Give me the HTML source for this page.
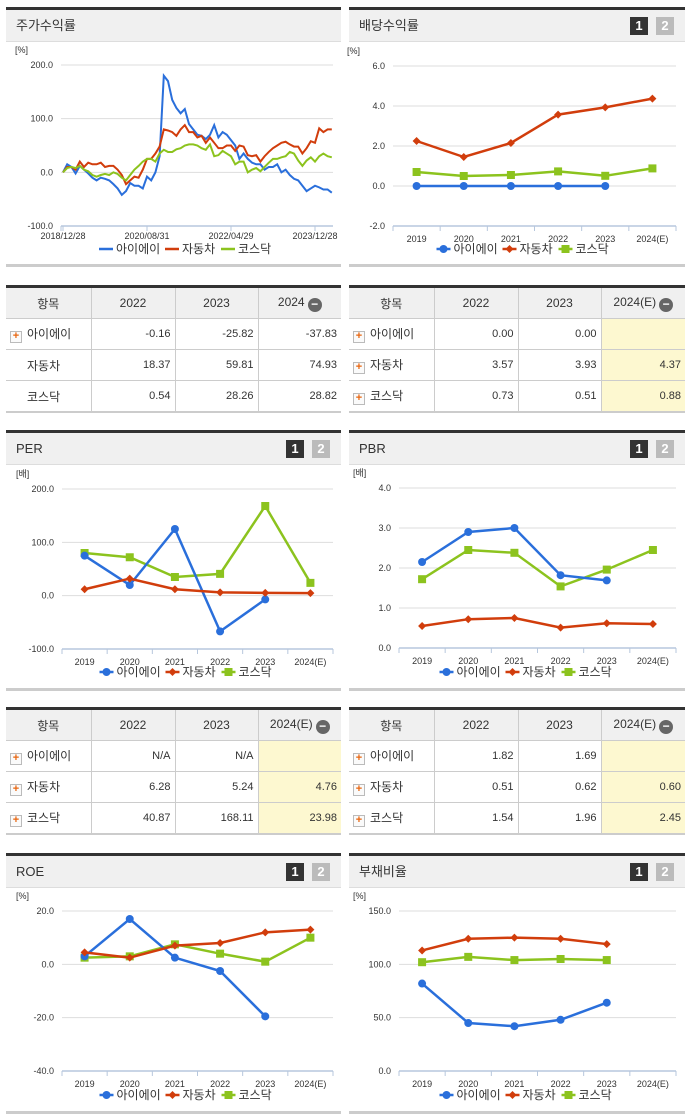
<!DOCTYPE html>
<html><head><meta charset="utf-8">
<style>
body{margin:0;width:691px;height:1115px;background:#fff;position:relative;overflow:hidden;font-family:"Liberation Sans","Noto Sans CJK KR",sans-serif;color:#333}
.hd{position:absolute;height:31px;background:#f0f0f0;border-top:3px solid #333;border-bottom:1px solid #ddd;font-size:13px;line-height:31px;padding-left:10px;box-sizing:content-box}
.pb{position:absolute;height:3px;background:#ccc}
.bd{position:absolute;top:7px;width:18px;height:18px;color:#fff;font-weight:bold;font-size:13px;text-align:center;line-height:18px}
table{position:absolute;border-collapse:collapse;table-layout:fixed;font-size:11px;border-top:3px solid #333;border-bottom:2px solid #ccc}
td,th{border:1px solid #ccc;height:30px;padding:0 4px;text-align:right}
th{background:#f0f0f0;font-weight:normal;text-align:center;font-size:12px}
td.n{text-align:left;font-size:12px;border-left:none}
td.y{background:#fdf8d0}
.pl{display:inline-block;width:10px;height:10px;border:1px solid #bbb;background:#fafafa;color:#e8650f;font-size:11px;line-height:9px;text-align:center;font-weight:bold;margin-right:5px;vertical-align:-1px}
.mi{display:inline-block;width:14px;height:14px;border-radius:50%;background:#666;color:#fff;line-height:13px;font-weight:bold;vertical-align:-2px;margin-left:3px}
</style></head><body>
<svg id="chart" width="691" height="1115" style="position:absolute;left:0;top:0"></svg>
<div id="ui"></div>
<script>
// ---- data ----
const stockMonths = 65;
const stockBlue = [0,15,10,-2,12,5,-2,-10,-15,-10,-12,-15,-22,-30,-42,-35,-20,-25,-25,-30,-8,-15,0,30,180,170,135,120,110,118,90,80,70,68,62,70,88,65,75,70,60,50,25,35,25,18,15,15,5,10,10,15,0,5,-5,-12,-15,-25,-35,-30,-25,-28,-32,-32,-38];
const stockRed = [0,10,10,5,20,10,18,15,15,18,10,12,12,5,-5,-22,-15,-8,-10,5,25,25,35,48,80,78,75,68,80,88,75,75,65,68,55,65,55,45,45,50,50,40,50,48,32,30,32,20,30,38,45,50,55,57,52,48,48,35,45,58,55,82,75,80,80];
const stockGreen = [0,8,10,8,12,5,2,-5,-8,-5,-3,-5,0,-3,-10,-15,-5,5,12,20,25,25,20,35,42,38,38,43,45,50,52,52,50,45,42,52,30,32,40,35,30,15,20,20,0,5,8,2,10,18,25,25,28,30,38,35,22,12,22,28,20,30,35,30,28];
const stockTicks = ["2018/12/28","2020/08/31","2022/04/29","2023/12/28"];
const stockTickIdx = [0,20,40,60];
const years = ["2019","2020","2021","2022","2023","2024(E)"];
const divBlue=[0,0,0,0,0,null], divRed=[2.25,1.45,2.15,3.57,3.93,4.37], divGreen=[0.7,0.5,0.55,0.73,0.51,0.88];
const perBlue=[75,20,125,-67,-7,null], perRed=[12,32,12,6.28,5.24,4.76], perGreen=[80,72,35,40.87,168.11,23.98];
const pbrBlue=[2.15,2.9,3.0,1.82,1.69,null], pbrRed=[0.55,0.72,0.75,0.51,0.62,0.60], pbrGreen=[1.72,2.45,2.38,1.54,1.96,2.45];
const roeBlue=[3,17,2.5,-2.5,-19.5,null], roeRed=[4.5,2.5,7,8,12,13], roeGreen=[2.5,3,7.5,4,1,10];
const debtBlue=[82,45,42,48,64,null], debtRed=[113,124,125,124,119,null], debtGreen=[102,107,104,105,104,null];
const C={b:"#2a6fdb",r:"#d13d0c",g:"#8cc31e"};
const NS="http://www.w3.org/2000/svg";
const svg=document.getElementById('chart');
function el(t,a,p){const e=document.createElementNS(NS,t);for(const k in a)e.setAttribute(k,a[k]);(p||svg).appendChild(e);return e;}
function txt(x,y,s,size,anchor,fill){const t=el('text',{x:x,y:y,'font-size':size,'text-anchor':anchor||'start',fill:fill||'#333','font-family':'Liberation Sans, Noto Sans CJK KR, sans-serif'});t.textContent=s;return t;}
function marker(kind,x,y){
 if(kind==='b')return el('circle',{cx:x,cy:y,r:4,fill:C.b});
 if(kind==='r')return el('path',{d:`M${x} ${y-4}L${x+4} ${y}L${x} ${y+4}L${x-4} ${y}Z`,fill:C.r});
 return el('rect',{x:x-4,y:y-4,width:8,height:8,fill:C.g});
}
function legend(cx,y,withMarkers){
 const items=[['b','아이에이'],['r','자동차'],['g','코스닥']];
 let x=cx-88;
 items.forEach(([k,n])=>{
  const g=el('g',{});
  
  
  el('line',{x1:x,y1:y,x2:x+14,y2:y,stroke:C[k],'stroke-width':2.5},g);
  if(withMarkers){const m=marker(k,x+7,y);g.appendChild(m);}
  const t=txt(x+17,y+4,n,12,'start','#333');g.appendChild(t);
  x+= n.length===4?66:56;
 });
}
function yAxis(x0,x1,yTop,yBot,min,max,ticks,unit){
 const ys=v=>yBot-(v-min)/(max-min)*(yBot-yTop);
 txt(x0-46,yTop-12,unit,9,'start','#333');
 ticks.forEach(v=>{
  if(v!==min)el('line',{x1:x0,y1:ys(v),x2:x1,y2:ys(v),stroke:'#ddd','stroke-width':1});
  txt(x0-8,ys(v)+3,v.toFixed(1),9,'end','#333');
 });
 el('line',{x1:x0,y1:yBot,x2:x1,y2:yBot,stroke:'#b7c7dd','stroke-width':1.5});
 el('line',{x1:x0,y1:yBot,x2:x0,y2:yBot+5,stroke:'#b7c7dd'});
 return ys;
}
function catChart(name,x0,x1,yTop,yBot,min,max,ticks,unit,series,legY){
 const g0=el('g',{});
 const ys=yAxis(x0,x1,yTop,yBot,min,max,ticks,unit);
 const step=(x1-x0)/years.length;
 const xs=i=>x0+step*(i+0.5);
 years.forEach((yr,i)=>{txt(xs(i),yBot+16,yr,9,'middle','#333');el('line',{x1:x0+step*(i+1),y1:yBot,x2:x0+step*(i+1),y2:yBot+5,stroke:'#b7c7dd'});});
 series.forEach(([k,arr])=>{
  const pts=[];arr.forEach((v,i)=>{if(v!==null)pts.push([xs(i),ys(v)]);});
  const pl=el('polyline',{points:pts.map(p=>p.join(',')).join(' '),fill:'none',stroke:C[k],'stroke-width':2.5});
  
  
  pts.forEach(p=>{const m=marker(k,p[0],p[1]);});
 });
 legend((x0+x1)/2-10,legY,true);
}
// stock chart
(function(){
 const x0=61,x1=333,yTop=65,yBot=226;
 const ys=yAxis(x0,x1,yTop,yBot,-100,200,[200,100,0,-100],'[%]');
 const xs=i=>x0+2+i*4.2;
 stockTicks.forEach((t,j)=>{const x=xs(stockTickIdx[j]);txt(x,yBot+13,t,9,'middle','#333');el('line',{x1:x,y1:yBot,x2:x,y2:yBot+5,stroke:'#b7c7dd'});});
 [['b',stockBlue],['r',stockRed],['g',stockGreen]].forEach(([k,arr])=>{
  const pl=el('polyline',{points:arr.map((v,i)=>xs(i)+','+ys(v)).join(' '),fill:'none',stroke:C[k],'stroke-width':2});
  
  
 });
 legend(187,249,false);
})();
const S=(b,r,g)=>[['g',g],['b',b],['r',r]];
catChart('dividend-chart',393,676,66,226,-2,6,[6,4,2,0,-2],'[%]',S(divBlue,divRed,divGreen),249);
catChart('per-chart',62,333,489,649,-100,200,[200,100,0,-100],'[배]',S(perBlue,perRed,perGreen),672);
catChart('pbr-chart',399,676,488,648,0,4,[4,3,2,1,0],'[배]',S(pbrBlue,pbrRed,pbrGreen),672);
catChart('roe-chart',62,333,911,1071,-40,20,[20,0,-20,-40],'[%]',S(roeBlue,roeRed,roeGreen),1095);
catChart('debt-chart',399,676,911,1071,0,150,[150,100,50,0],'[%]',S(debtBlue,debtRed,debtGreen),1095);

// ---- UI panels ----
const ui=document.getElementById('ui');
function panel(name,x,y,w,title,badges,h){
 const d=document.createElement('div');d.className='hd';
 
 
 d.style.cssText=`left:${x}px;top:${y}px;width:${w-10}px`;d.textContent=title;ui.appendChild(d);
 if(badges){[['1','#333',w-55],['2','#bbb',w-29]].forEach(([n,c,bx])=>{const b=document.createElement('div');b.className='bd';
  
  
  b.style.left=bx+'px';b.style.background=c;b.textContent=n;d.appendChild(b);});}
 const p=document.createElement('div');p.className='pb';
 
 
 p.style.cssText=`left:${x}px;top:${y+h}px;width:${w}px`;ui.appendChild(p);
}
panel('stock-return',6,7,335,'주가수익률',false,257);
panel('dividend',349,7,336,'배당수익률',true,257);
panel('per',6,430,335,'PER',true,258);
panel('pbr',349,430,336,'PBR',true,258);
panel('roe',6,853,335,'ROE',true,258);
panel('debt',349,853,336,'부채비율',true,258);
function table(name,x,y,w,last,rows,plusAll){
 const t=document.createElement('table');t.style.left=x+'px';t.style.top=y+'px';t.style.width=w+'px';
 
 
 let h=`<colgroup><col style="width:85px"><col style="width:84px"><col style="width:83px"><col></colgroup><tr><th style="border-left:none">항목</th><th>2022</th><th>2023</th><th style="border-right:none">${last}<span class="mi">−</span></th></tr>`;
 rows.forEach((r,i)=>{
  const pl=(plusAll||i===0)?'<span class="pl">+</span>':'<span style="display:inline-block;width:12px;margin-right:5px"></span>';
  h+=`<tr><td class="n">${pl}${r[0]}</td><td>${r[1]}</td><td>${r[2]}</td><td class="${last.includes('E')?'y':''}" style="border-right:none">${r[3]}</td></tr>`;
 });
 t.innerHTML=h;ui.appendChild(t);
}
table('stock-return-table',6,285,335,'2024',[['아이에이','-0.16','-25.82','-37.83'],['자동차','18.37','59.81','74.93'],['코스닥','0.54','28.26','28.82']],false);
table('dividend-table',349,285,336,'2024(E)',[['아이에이','0.00','0.00',''],['자동차','3.57','3.93','4.37'],['코스닥','0.73','0.51','0.88']],true);
table('per-table',6,707,335,'2024(E)',[['아이에이','N/A','N/A',''],['자동차','6.28','5.24','4.76'],['코스닥','40.87','168.11','23.98']],true);
table('pbr-table',349,707,336,'2024(E)',[['아이에이','1.82','1.69',''],['자동차','0.51','0.62','0.60'],['코스닥','1.54','1.96','2.45']],true);
</script>
</body></html>
